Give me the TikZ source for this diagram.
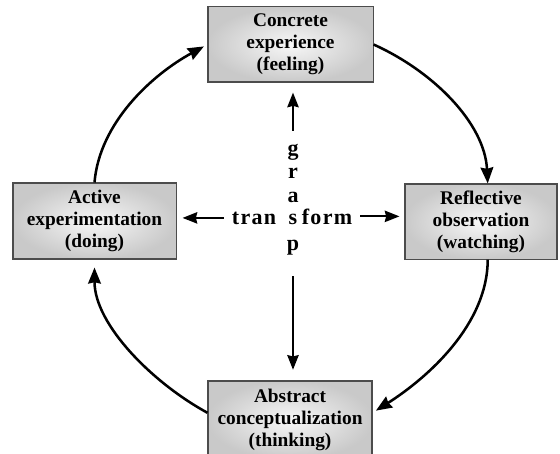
\documentclass[tikz,border=0pt]{standalone}
\usepackage{fontspec}
\setmainfont{Liberation Serif}
\usetikzlibrary{arrows.meta,positioning}

\begin{document}
\begin{tikzpicture}[x=0.75pt,y=0.75pt,yscale=-1,xscale=1,
  stage/.style={draw=black!70, line width=0.8pt, inner color=gray!6, outer color=gray!42,
    align=center, inner sep=0pt, font=\bfseries\fontsize{14.5}{16.5}\selectfont},
  cycle arrow/.style={line width=1.9pt, -{Stealth[length=12pt,width=9.5pt,inset=1pt]}},
  axis arrow/.style={line width=1.5pt, -{Stealth[length=11pt,width=8.5pt,inset=1pt]}},
  letter/.style={inner sep=0pt, anchor=base, font=\bfseries\fontsize{16.5}{18}\selectfont},
  spaced/.style={letter, font=\bfseries\fontsize{16.5}{18}\selectfont\addfontfeature{LetterSpace=6}}]

\useasboundingbox (0,0) rectangle (560,453);

% the four stages
\node [stage, minimum width=123.8pt, minimum height=56.3pt] (concrete) at (290.5,44.5) {Concrete\\experience\\(feeling)};
\node [stage, minimum width=122.3pt, minimum height=57pt] (active) at (94.5,221) {Active\\experimentation\\(doing)};
\node [stage, minimum width=114pt, minimum height=56.3pt] (reflective) at (481,221.5) {Reflective\\observation\\(watching)};
\node [stage, minimum width=123pt, minimum height=58.5pt] (abstract) at (290,420) {Abstract\\conceptualization\\(thinking)};

% centre words
\node [letter] (s) at (293,224) {s};
\node [spaced, base left=9pt of s] (tran) {tran};
\node [spaced, base right=3pt of s] (form) {form};
\foreach \l/\y in {g/155,r/178,a/202}
  \node [letter] (\l) at (293,\y) {\l};
\node [letter] (p) at (293,250) {p};

% cycle
\draw [cycle arrow] (concrete.east) .. controls +(60,27) and +(-3,-60) .. (reflective.80);
\draw [cycle arrow, shorten >=3pt] (reflective.-80) .. controls +(0,65) and +(55,-35) .. (abstract.5);
\draw [cycle arrow, shorten >=6pt] (abstract.175) .. controls +(-55,-30) and +(0,65) .. (active.south);
\draw [cycle arrow, shorten >=3pt] (active.north) .. controls +(5,-60) and +(-55,30) .. (concrete.west);

% axes
\draw [axis arrow, shorten <=9.5pt, shorten >=7.5pt] (g.north) -- (g.north |- concrete.south);
\draw [axis arrow, shorten <=16pt, shorten >=8pt] (p.south) -- (p.south |- abstract.north);
\draw [axis arrow, shorten <=6pt, shorten >=4.5pt] (tran.west) -- (tran.west -| active.east);
\draw [axis arrow, shorten <=6pt, shorten >=3.75pt] (form.east) -- (form.east -| reflective.west);

\end{tikzpicture}
\end{document}
